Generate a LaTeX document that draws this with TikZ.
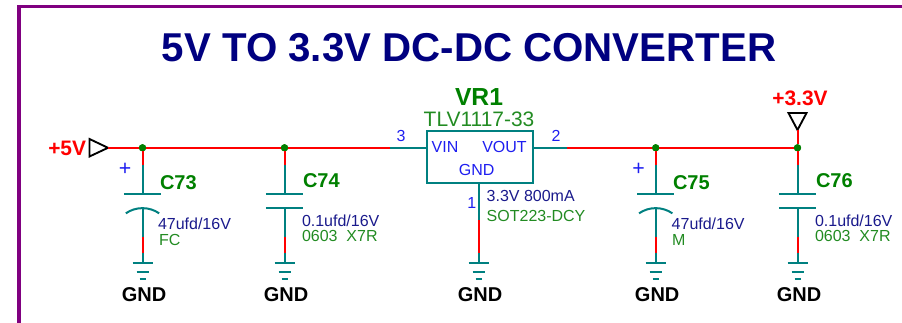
\documentclass[tikz,border=0pt]{standalone}
\usepackage{fontspec}
\setmainfont{Liberation Sans}
\definecolor{wirered}{RGB}{255,0,0}
\definecolor{leadteal}{RGB}{0,128,128}
\definecolor{framepurple}{RGB}{128,0,128}
\definecolor{titlenavy}{RGB}{0,0,128}
\definecolor{valnavy}{RGB}{26,26,140}
\definecolor{refgreen}{RGB}{0,128,0}
\definecolor{notegreen}{RGB}{34,139,34}
\definecolor{pinblue}{RGB}{30,30,240}
\newcommand{\szA}{\fontsize{15}{18}\selectfont}
\newcommand{\szB}{\fontsize{12}{14}\selectfont}
\tikzset{
  txt/.style={inner sep=0pt,outer sep=0pt,anchor=base west},
  txtc/.style={inner sep=0pt,outer sep=0pt,anchor=base},
  wire/.style={draw=wirered,line width=1.5pt},
  lead/.style={draw=leadteal,line width=1.5pt},
  dotj/.style={circle,fill=refgreen,inner sep=0pt,minimum size=5.4pt,outer sep=0pt},
  refdes/.style={txt,font=\szA\bfseries,text=refgreen},
  gndlabel/.style={txtc,font=\szA\bfseries,text=black},
  powerlabel/.style={font=\fontsize{15.7}{18}\selectfont\bfseries,text=wirered,inner sep=0pt},
  valtxt/.style={txt,font=\szB,text=valnavy},
  notetxt/.style={txt,font=\szB,text=notegreen},
  pintxt/.style={txtc,font=\szB,text=pinblue},
  flag/.style={draw=black,line width=1.4pt,fill=white,line join=miter},
}
\begin{document}
\begin{tikzpicture}[x=0.75pt,y=-0.75pt]
\useasboundingbox (0,0) rectangle (902,323);
% frame
\draw[draw=framepurple,line width=2.3pt] (19,323) -- (19,6.5) -- (902,6.5);
% title
\node[txtc,font=\fontsize{30.2}{36}\selectfont\bfseries,text=titlenavy] (title) at (469,62) {5V TO 3.3V DC-DC CONVERTER};
% regulator
\node[draw=leadteal,line width=1.5pt,minimum width=79.5pt,minimum height=38.5pt,inner sep=0pt,anchor=north west] (vr) at (426,130.5) {};
\node[txtc,font=\fontsize{18.5}{20}\selectfont\bfseries,text=refgreen] (vrref) at (479,106) {VR1};
\node[txtc,font=\fontsize{15.7}{18}\selectfont,text=notegreen] (vrpart) at (479,126.7) {TLV1117-33};
\node[txt,font=\szB,text=pinblue] (vin) at (431.7,152.7) {VIN};
\node[inner sep=0pt,anchor=base east,font=\szB,text=pinblue] (vout) at (527,152.7) {VOUT};
\node[pintxt] (vgnd) at (476.7,176) {GND};
\node[pintxt] (p3) at (401,142) {3};
\node[pintxt] (p2) at (556,142) {2};
\node[pintxt] (p1) at (471.7,209) {1};
\node[valtxt] (vrval) at (486.7,201.7) {3.3V 800mA};
\node[notetxt] (vrpkg) at (486.7,221.7) {SOT223-DCY};
% named points
\coordinate (w5) at (108,147.8);
\coordinate (in) at (390,147.8);
\coordinate (out) at (567,147.8);
\coordinate (vrin) at (vr.west |- in);
\coordinate (vrout) at (vr.east |- in);
\node[dotj] (j73) at (142.5,147.8) {};
\node[dotj] (j74) at (284.5,147.8) {};
\node[dotj] (j75) at (655.7,147.8) {};
\node[dotj] (j76) at (797.5,147.8) {};
% +5V port
\node[powerlabel,anchor=base west] (l5) at (48,155.7) {+5V};
\draw[flag] (89.5,139) -- (108,147.8) -- (89.5,156.5) -- cycle;
% +3.3V port
\node[powerlabel,anchor=base] (l33) at (800,106) {+3.3V};
\draw[flag] (788.5,113) -- (806.5,113) -- (797.5,130) -- cycle;
\coordinate (w33) at (797.5,130);
% rails
\draw[wire] (w5) -- (in);
\draw[wire] (out) -- (j76);
\draw[wire] (w33) -- (j76);
\draw[lead] (in) -- (vrin);
\draw[lead] (vrout) -- (out);
\node[dotj] at (j73) {};
\node[dotj] at (j74) {};
\node[dotj] at (j75) {};
\node[dotj] at (j76) {};
% regulator ground leg
\coordinate (rg1) at (478.7,220);
\coordinate (rg2) at (478.7,253);
\coordinate (rg3) at (478.7,263);
\draw[lead] (vr.south -| rg1) -- (rg1);
\draw[wire] (rg1) -- (rg2);
\draw[lead] (rg2) -- (rg3);
\draw[lead] ([xshift=-7.5pt]rg3) -- ([xshift=7.5pt]rg3);
\draw[lead] ([xshift=-4.5pt,yshift=-6.75pt]rg3) -- ([xshift=4.5pt,yshift=-6.75pt]rg3);
\draw[lead] ([xshift=-2.25pt,yshift=-12pt]rg3) -- ([xshift=2.25pt,yshift=-12pt]rg3);
\node[gndlabel] (g0) at (480,301.7) {GND};
% capacitors
\foreach \n/\x in {73/142.5,74/284.5,75/655.7,76/797.5}{
  \coordinate (a\n) at (\x,165);
  \coordinate (t\n) at (\x,194);
  \coordinate (b\n) at (\x,208);
  \coordinate (c\n) at (\x,237);
  \coordinate (d\n) at (\x,253);
  \coordinate (e\n) at (\x,263);
  \draw[wire] (j\n.south) -- (a\n);
  \draw[lead] (a\n) -- (t\n);
  \draw[lead] ([xshift=-14pt]t\n) -- ([xshift=14pt]t\n);
  \draw[lead] (b\n) -- (c\n);
  \draw[wire] (c\n) -- (d\n);
  \draw[lead] (d\n) -- (e\n);
  \draw[lead] ([xshift=-7.5pt]e\n) -- ([xshift=7.5pt]e\n);
  \draw[lead] ([xshift=-4.5pt,yshift=-6.75pt]e\n) -- ([xshift=4.5pt,yshift=-6.75pt]e\n);
  \draw[lead] ([xshift=-2.25pt,yshift=-12pt]e\n) -- ([xshift=2.25pt,yshift=-12pt]e\n);
  \node[gndlabel] (g\n) at (\x+1.5,301.7) {GND};
}
% polar plates
\draw[lead] ([xshift=-12.5pt,yshift=-4pt]b73) .. controls ([xshift=-5pt,yshift=1.2pt]b73) and ([xshift=5pt,yshift=1.2pt]b73) .. ([xshift=12.5pt,yshift=-4pt]b73);
\draw[lead] ([xshift=-12.5pt,yshift=-4pt]b75) .. controls ([xshift=-5pt,yshift=1.2pt]b75) and ([xshift=5pt,yshift=1.2pt]b75) .. ([xshift=12.5pt,yshift=-4pt]b75);
% flat plates
\draw[lead] ([xshift=-14pt]b74) -- ([xshift=14pt]b74);
\draw[lead] ([xshift=-14pt]b76) -- ([xshift=14pt]b76);
% labels
\node[pintxt,font=\fontsize{16}{18}\selectfont] (pl73) at (125,176) {+};
\node[pintxt,font=\fontsize{16}{18}\selectfont] (pl75) at (638.5,176) {+};
\node[refdes] (r73) at (160,189.3) {C73};
\node[refdes] (r74) at (303,187.5) {C74};
\node[refdes] (r75) at (673,189.3) {C75};
\node[refdes] (r76) at (816,187.5) {C76};
\node[valtxt] (v73) at (158,230) {47ufd/16V};
\node[notetxt] (n73) at (159,246) {FC};
\node[valtxt] (v74) at (302,227) {0.1ufd/16V};
\node[notetxt] (n74) at (302,242) {0603\ \ X7R};
\node[valtxt] (v75) at (671.7,230) {47ufd/16V};
\node[notetxt] (n75) at (672,246) {M};
\node[valtxt] (v76) at (815,227) {0.1ufd/16V};
\node[notetxt] (n76) at (815,242) {0603\ \ X7R};
\end{tikzpicture}
\end{document}
